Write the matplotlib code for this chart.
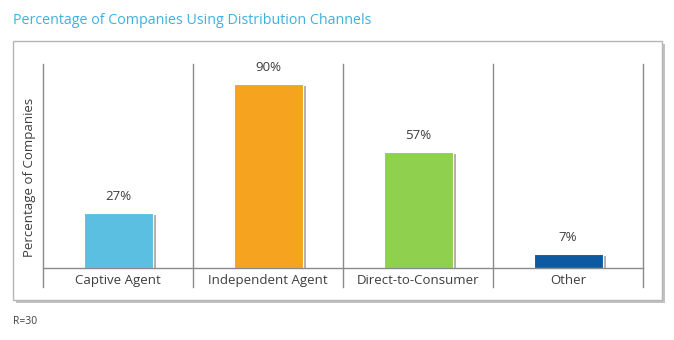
import matplotlib
matplotlib.use("Agg")
import matplotlib.pyplot as plt
import matplotlib.patheffects as pe
from matplotlib.patches import Rectangle

# Distribution channels and share of companies using each
channels = ["Captive Agent", "Independent Agent", "Direct-to-Consumer", "Other"]
percentages = [27, 90, 57, 7]
bar_colors = ["#5bbfe2", "#f6a41f", "#8fd14f", "#0d5aa0"]

plt.rcParams['font.family'] = ['Open Sans', 'DejaVu Sans']
text_color = "#3d3d3d"
line_color = "#8a8a8a"

fig = plt.figure(figsize=(6.74, 3.40), dpi=100)
W, H = 674, 340

# Title
fig.text(13 / W, 1 - 20 / H, "Percentage of Companies Using Distribution Channels",
         color="#3fb1e0", fontsize=10.3, ha="left", va="center")

# Outer frame with a soft drop shadow
frame = Rectangle((13 / W, 1 - 300 / H), (662 - 13) / W, (300 - 41) / H,
                  transform=fig.transFigure, facecolor="white", edgecolor="#b5b5b5",
                  linewidth=1.0, zorder=-5,
                  path_effects=[pe.SimplePatchShadow(offset=(2, -2), shadow_rgbFace="#9a9a9a",
                                                     alpha=0.6), pe.Normal()])
fig.patches.append(frame)

ax = fig.add_axes([43 / W, 1 - 268 / H, 600 / W, 204 / H], zorder=5)
ax.patch.set_visible(False)
x = range(len(channels))
bars = ax.bar(x, percentages, width=0.46, color=bar_colors, edgecolor="white",
              linewidth=0.8, zorder=3)
for b in bars:
    b.set_path_effects([pe.SimplePatchShadow(offset=(2.5, -1.5), shadow_rgbFace="#6f6f6f",
                                             alpha=0.55), pe.Normal()])

for xi, v in zip(x, percentages):
    ax.text(xi, v + 5, f"{v}%", ha="center", va="bottom", fontsize=9.5, color=text_color)

ax.set_xlim(-0.5, len(channels) - 0.5)
ax.set_ylim(0, 100)
for s in ax.spines.values():
    s.set_visible(False)
ax.set_xticks([])
ax.set_yticks([])

# Category separators extending below the baseline
for i in range(len(channels) + 1):
    ax.plot([i - 0.5, i - 0.5], [100, -9.3], color=line_color, linewidth=1.0,
            clip_on=False, zorder=2)
ax.plot([-0.5, len(channels) - 0.5], [0, 0], color=line_color, linewidth=1.0,
        clip_on=False, zorder=4)

for xi, name in zip(x, channels):
    ax.text(xi, -6.3, name, ha="center", va="center", fontsize=9.5, color=text_color)

fig.text(30 / W, 1 - 177 / H, "Percentage of Companies", rotation=90,
         ha="center", va="center", fontsize=9.5, color=text_color)

fig.text(13 / W, 1 - 322 / H, "R=30", ha="left", va="center", fontsize=7.5,
         color=text_color)

fig.savefig("out.png", dpi=100)
